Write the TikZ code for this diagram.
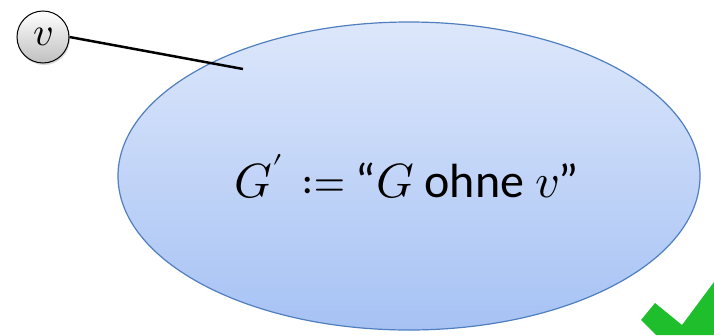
\documentclass[tikz,border=0pt]{standalone}
\usepackage{fontspec}
\usepackage{unicode-math}
\setmainfont{Carlito}
\setmathfont{Latin Modern Math}
\usetikzlibrary{shadows,shapes.geometric}
\definecolor{elltop}{HTML}{DDE7FB}
\definecolor{ellbot}{HTML}{A6C2F4}
\definecolor{ellborder}{HTML}{4F7FBF}
\definecolor{checkgreen}{HTML}{1EBE2C}
\tikzset{
  bigell/.style={ellipse, draw=ellborder, line width=1.2pt, top color=elltop, bottom color=ellbot, minimum width=582pt, minimum height=308pt, inner sep=0pt},
  vnode/.style={circle, draw=black, line width=1pt, top color=white, bottom color=black!25, minimum size=52pt, inner sep=0pt, drop shadow={opacity=0.3, shadow xshift=1pt, shadow yshift=-2pt}},
  edge/.style={line width=2.5pt, black}
}
\begin{document}
\begin{tikzpicture}[x=1pt,y=-1pt]
\useasboundingbox (0,0) rectangle (714,335);
\node[bigell] (G) at (409,176) {};
\node[anchor=base, inner sep=0pt] (t) at (407,197) {\fontsize{48}{56}\selectfont $G'$\hspace{0.4em}$≔$\hspace{0.2em}“$G$ ohne $v$”};
\node[vnode] (v) at (43,37) {\fontsize{40}{46}\selectfont $v$};
\coordinate (e) at (243,69);
\draw[edge] (v.east) -- (e);
\fill[checkgreen] (641,320) -- (655,303) -- (682,325) -- (714,282) -- (714,335) -- (656,335) -- cycle;
\end{tikzpicture}
\end{document}
